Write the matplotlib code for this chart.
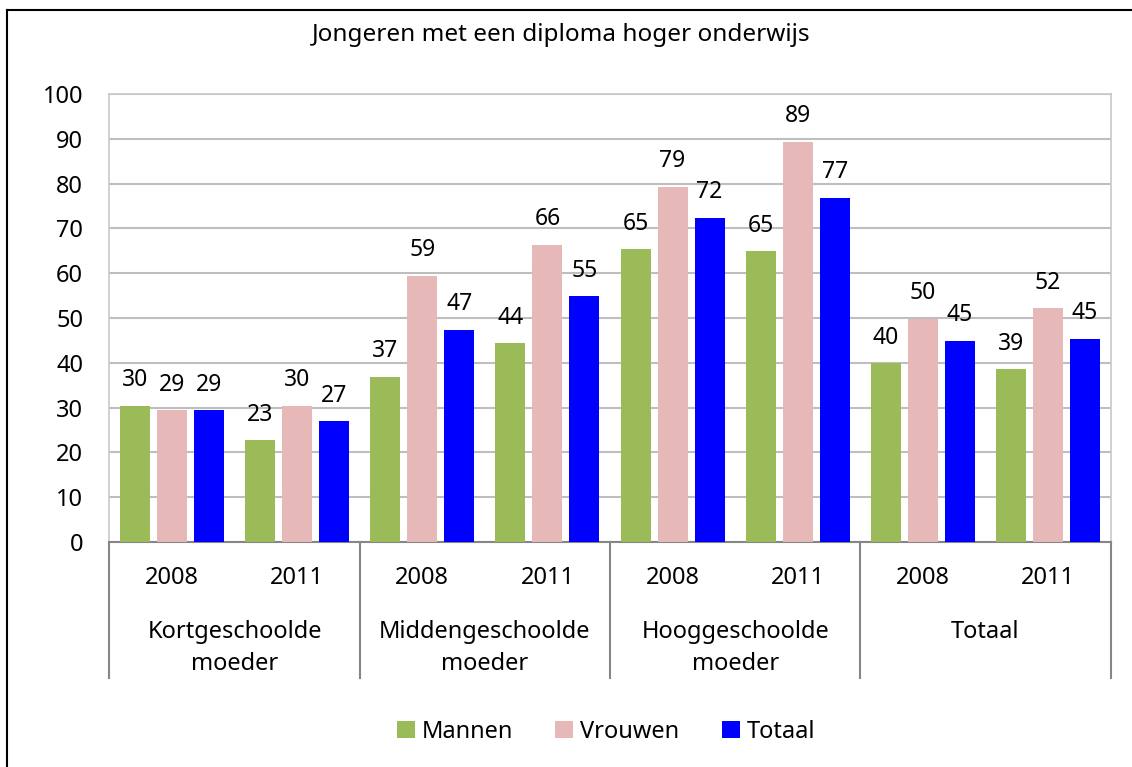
import matplotlib
matplotlib.use("Agg")
import matplotlib.pyplot as plt
import matplotlib.transforms as mtransforms
from matplotlib.lines import Line2D
from matplotlib.patches import Patch

plt.rcParams['font.family'] = ['Noto Sans', 'DejaVu Sans']

groups = [['Kortgeschoolde', 'moeder'], ['Middengeschoolde', 'moeder'],
          ['Hooggeschoolde', 'moeder'], ['Totaal']]
years = ['2008', '2011']
series = ['Mannen', 'Vrouwen', 'Totaal']
colors = ['#9BBB59', '#E6B9B8', '#0000FF']

# per year-category, in order: Kort 2008, Kort 2011, Midden 2008, ..., Totaal 2011
mannen = [30.4, 22.7, 36.9, 44.4, 65.4, 64.9, 39.9, 38.6]
vrouwen = [29.4, 30.4, 59.4, 66.4, 79.3, 89.3, 49.8, 52.2]
totaal = [29.4, 26.9, 47.4, 54.9, 72.4, 76.8, 44.9, 45.4]

W, H = 1132, 767
fig = plt.figure(figsize=(W / 100, H / 100), dpi=100)
ax = fig.add_axes([109.5 / W, 1 - 542 / H, 1001 / W, 448 / H])

n = len(mannen)
centers = [i + 0.5 for i in range(n)]
width = 0.24
step = 0.296

for k, (name, vals) in enumerate(zip(series, [mannen, vrouwen, totaal])):
    xs = [c + (k - 1) * step for c in centers]
    bars = ax.bar(xs, vals, width=width, color=colors[k], label=name, zorder=3)
    for b, v in zip(bars, vals):
        ax.annotate(f"{v:.0f}", (b.get_x() + b.get_width() / 2, v),
                    xytext=(0, 14), textcoords='offset points',
                    ha='center', va='baseline', fontsize=16.5)

ax.set_xlim(0, n)
ax.set_ylim(0, 100)
ax.set_yticks(range(0, 101, 10))
ax.tick_params(axis='y', length=0, pad=19, labelsize=17)
ax.set_xticks([])
ax.yaxis.grid(True, color='#BEBEBE', linewidth=1.5, zorder=0)
ax.set_axisbelow(True)
for s in ['left', 'right', 'top']:
    ax.spines[s].set_color('#C8C8C8')
    ax.spines[s].set_linewidth(1.2)
ax.spines['bottom'].set_color('#868686')
ax.spines['bottom'].set_linewidth(1.5)

# two-level category axis below the bars
trans = mtransforms.blended_transform_factory(ax.transData, ax.transAxes)
for i, c in enumerate(centers):
    ax.text(c, -36 / 448, years[i % 2], transform=trans,
            ha='center', va='center', fontsize=17)
for g, lines in enumerate(groups):
    for j, line in enumerate(lines):
        ax.text(2 * g + 1, -(96 + 32 * j) / 448, line, transform=trans,
                ha='center', va='baseline', fontsize=17)
for xb in range(0, n + 1, 2):
    ax.add_line(Line2D([xb, xb], [0, -136 / 448], transform=trans,
                       color='#868686', linewidth=1.5, clip_on=False))

fig.text(561 / W, 1 - 41 / H, 'Jongeren met een diploma hoger onderwijs',
         ha='center', va='baseline', fontsize=17.5)

handles = [Patch(facecolor=c) for c in colors]
fig.legend(handles, series, loc='center', bbox_to_anchor=(606 / W, 1 - 732 / H),
           ncol=3, frameon=False, fontsize=17, handlelength=0.75, handleheight=0.75,
           handletextpad=0.3, columnspacing=1.8)

# outer frame of the chart area
fig.add_artist(Line2D([7 / W, 7 / W], [0, 1 - 9.5 / H], transform=fig.transFigure,
                      color='black', linewidth=1.5))
fig.add_artist(Line2D([7 / W, 1], [1 - 9.5 / H, 1 - 9.5 / H], transform=fig.transFigure,
                      color='black', linewidth=1.5))

fig.savefig('out.png', dpi=100)
